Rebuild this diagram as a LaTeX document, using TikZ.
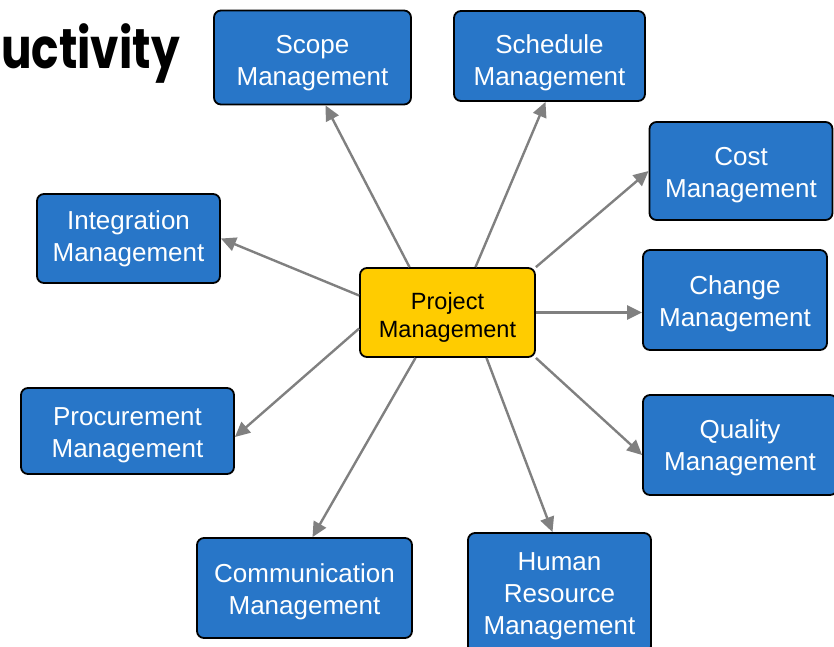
\documentclass[tikz,border=0pt]{standalone}
\usepackage{fontspec}
\setmainfont{Liberation Sans}
\newfontfamily\titlefont{Poppins}
\usetikzlibrary{positioning,arrows.meta}

\definecolor{boxblue}{RGB}{40,118,200}
\definecolor{pmyellow}{RGB}{255,204,0}
\definecolor{linkgray}{RGB}{128,128,128}

\begin{document}
\begin{tikzpicture}[
            x=1pt, y=-1pt,
            mgmtnode/.style={rectangle, rounded corners=7pt, draw=black, line width=1.8pt, fill=boxblue, text=white, align=center, inner sep=0pt, font=\fontsize{26}{32}\selectfont, text height=53pt, text depth=0pt},
            centernode/.style={mgmtnode, fill=pmyellow, text=black, font=\fontsize{23.5}{28}\selectfont, text height=49pt},
            linkarrow/.style={draw=linkgray, line width=2.4pt, -{Triangle[length=15pt,width=14pt]}},
        ]
            \useasboundingbox (0,0) rectangle (834,646);
            % Title
            \node[font=\titlefont\bfseries\fontsize{56}{60}\selectfont, anchor=base west, inner sep=0pt, xscale=0.81] (title) at (1,68) {uctivity};
            % Nodes
            \node[centernode, minimum width=175pt, minimum height=89pt] (pm) at (447.5,312.5) {Project\\Management};
            \node[mgmtnode, minimum width=197pt, minimum height=94pt, text height=55pt] (scope) at (312.5,57.5) {Scope\\Management};
            \node[mgmtnode, minimum width=191pt, minimum height=90pt, text height=58pt] (schedule) at (549.5,56) {Schedule\\Management};
            \node[mgmtnode, minimum width=183pt, minimum height=98pt] (cost) at (741,171) {Cost\\Management};
            \node[mgmtnode, minimum width=184pt, minimum height=100pt] (change) at (735,300) {Change\\Management};
            \node[mgmtnode, minimum width=194pt, minimum height=100pt, text height=50pt] (quality) at (740,445) {Quality\\Management};
            \node[mgmtnode, minimum width=183pt, minimum height=120pt, text height=82pt] (human) at (559.5,593) {Human\\Resource\\Management};
            \node[mgmtnode, minimum width=215pt, minimum height=100pt, text height=52pt] (comm) at (304.5,588) {Communication\\Management};
            \node[mgmtnode, minimum width=213pt, minimum height=86pt, text height=52pt] (proc) at (127.5,431) {Procurement\\Management};
            \node[mgmtnode, minimum width=183pt, minimum height=89pt, text height=45pt] (integ) at (128.5,238.5) {Integration\\Management};
            % Lines
            \draw[linkarrow] ([xshift=-38pt]pm.north) -- ([xshift=13pt]scope.south);
            \draw[linkarrow] ([xshift=28pt]pm.north) -- ([xshift=-4pt]schedule.south);
            \draw[linkarrow] (pm.north east) -- (cost.west);
            \draw[linkarrow] (pm.east) -- (change.west |- pm.east);
            \draw[linkarrow] (pm.south east) -- ([yshift=-10pt]quality.west);
            \draw[linkarrow] ([xshift=39pt]pm.south) -- ([xshift=-7pt]human.north);
            \draw[linkarrow] ([xshift=-32pt]pm.south) -- ([xshift=8pt]comm.north);
            \draw[linkarrow] ([yshift=-16pt]pm.west) -- ([yshift=-6pt]proc.east);
            \draw[linkarrow] ([yshift=17pt]pm.west) -- (integ.east);
        \end{tikzpicture}
\end{document}
